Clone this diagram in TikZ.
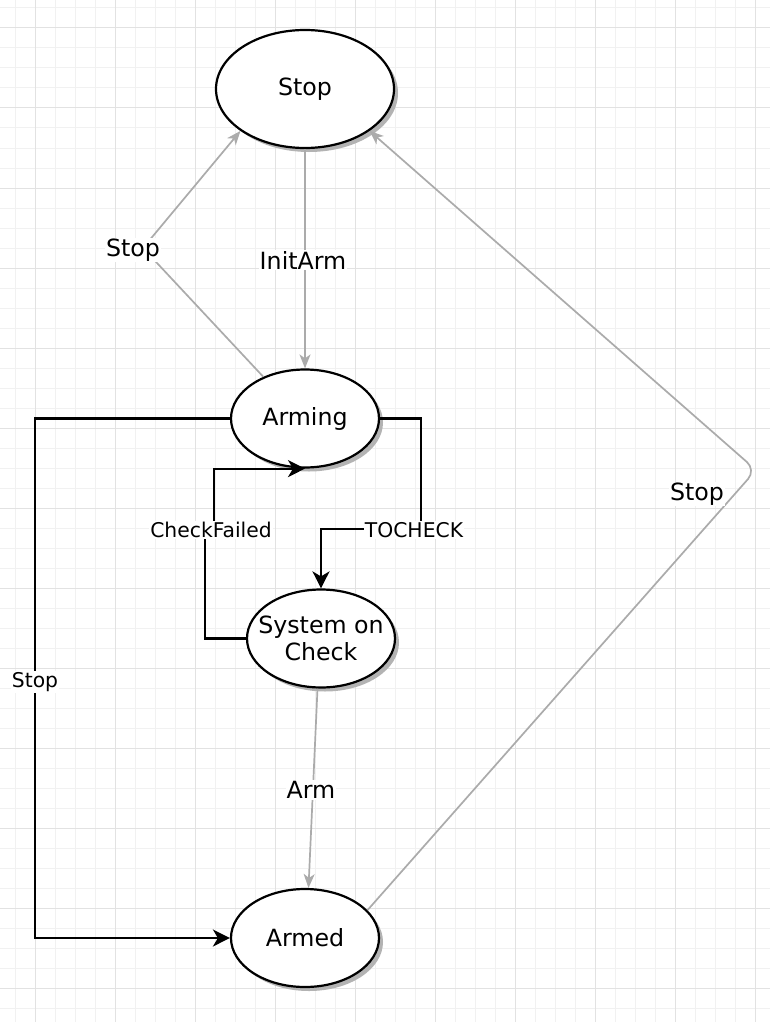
\documentclass[tikz,border=0pt]{standalone}
\usepackage{fontspec}
\setmainfont{DejaVu Sans}
\usetikzlibrary{shapes.geometric,arrows.meta,shadows}
\definecolor{edgegray}{HTML}{ABABAB}
\definecolor{gridminor}{HTML}{F1F1F1}
\definecolor{gridmajor}{HTML}{E2E2E2}
\definecolor{shadowgray}{HTML}{B3B3B3}
\newcommand{\bigfont}{\fontsize{23.7pt}{27pt}\selectfont}
\newcommand{\edgefont}{\fontsize{20.3pt}{24pt}\selectfont}
\tikzset{
  state/.style={ellipse, draw=black, line width=2.2pt, fill=white, inner sep=0pt,
    general shadow={fill=shadowgray, shadow xshift=4pt, shadow yshift=-4pt}},
  statetext/.style={font=\bigfont, align=center, inner sep=0pt},
  blk/.style={draw=black, line width=2.2pt, -{Stealth[length=17pt,width=17pt,inset=5pt]}},
  gry/.style={draw=edgegray, line width=1.7pt, -{Stealth[length=14pt,width=11pt,inset=4pt]}},
  elab/.style={fill=white, inner sep=1pt, font=\edgefont},
  glab/.style={fill=white, inner sep=1pt, font=\bigfont}
}
\begin{document}
\begin{tikzpicture}[x=1pt,y=-1pt]
\useasboundingbox (0,0) rectangle (770,1022);
\fill[white] (0,0) rectangle (770,1022);
% grid
\foreach \x in {15,35,...,770} \draw[gridminor, line width=1pt] (\x,0) -- (\x,1022);
\foreach \y in {8,28,...,1022} \draw[gridminor, line width=1pt] (0,\y) -- (770,\y);
\foreach \x in {35,115,...,770} \draw[gridmajor, line width=1pt] (\x,0) -- (\x,1022);
\foreach \y in {28,108,...,1022} \draw[gridmajor, line width=1pt] (0,\y) -- (770,\y);
% states
\node[state, minimum width=178pt, minimum height=118pt, label={[statetext]center:Stop}] (Stop) at (305,89) {};
\node[state, minimum width=148pt, minimum height=98pt, label={[statetext]center:Arming}] (Arming) at (305,418.5) {};
\node[state, minimum width=148pt, minimum height=98pt, label={[statetext]center:System on\\Check}] (SoC) at (321,638.5) {};
\node[state, minimum width=148pt, minimum height=98pt, label={[statetext]center:Armed}] (Armed) at (305,938) {};
% gray edges
\coordinate (lc) at (143,248);
\draw[gry, rounded corners=10pt] (Arming.135) -- (lc) -- (Stop.213);
\node[glab] (lStop1) at (133,250) {Stop};
\draw[gry] (Stop.south) -- (Arming.north);
\node[glab] (lInit) at (303,260) {InitArm};
\coordinate (rc) at (756,470);
\draw[gry, rounded corners=12pt] (Armed.24) -- (rc) -- (Stop.-33);
\node[glab] (lStop2) at (697,494) {Stop};
\draw[gry] (SoC.266) -- (Armed.86);
\node[glab] (lArm) at (311,790) {Arm};
% black edges
\coordinate (tc) at (421,529);
\draw[blk] (Arming.east) -| (tc) -| (SoC.north);
\node[elab] (lTo) at (414,530) {TOCHECK};
\coordinate (cf1) at (205,530);
\coordinate (cf2) at (214,530);
\draw[blk] (SoC.west) -| (cf1) -- (cf2) |- (Arming.south);
\node[elab] (lCF) at (211,530) {CheckFailed};
\coordinate (ls) at (35,680);
\draw[blk] (Arming.west) -| (ls) |- (Armed.west);
\node[elab] (lStop3) at (35,682) {Stop};
\end{tikzpicture}
\end{document}
